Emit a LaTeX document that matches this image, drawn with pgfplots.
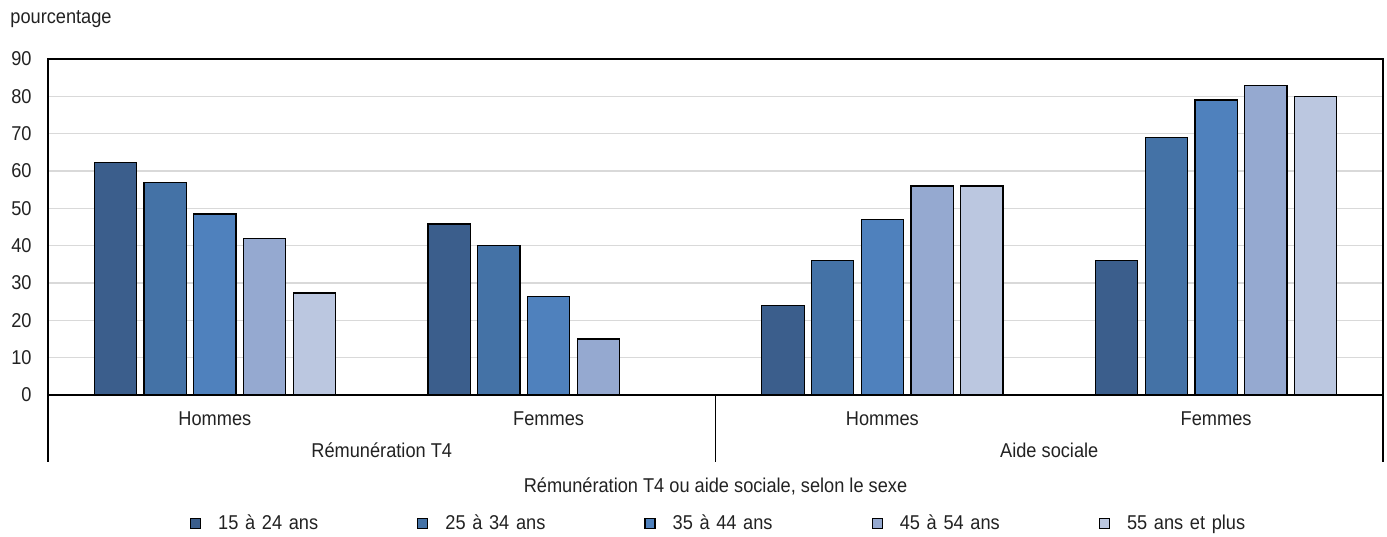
\documentclass[border=0pt]{standalone}
\usepackage{pgfplots}
\pgfplotsset{compat=1.18}
\usepackage{fontspec}
\setmainfont{Liberation Sans}[FakeStretch=0.91]
\definecolor{c1}{RGB}{59,94,140}
\definecolor{c2}{RGB}{68,114,166}
\definecolor{c3}{RGB}{79,129,189}
\definecolor{c4}{RGB}{149,169,208}
\definecolor{c5}{RGB}{187,199,224}
\definecolor{txt}{RGB}{34,34,34}
\begin{document}
\begin{tikzpicture}[font=\fontsize{10}{12}\selectfont, text=txt]
\useasboundingbox (-24pt,-70.5pt) rectangle (669.5pt,197.5pt);
\node[anchor=base west, inner sep=0pt] at (-19pt,185.5pt) {pourcentage};
\begin{axis}[
  at={(0,0)}, anchor=south west, scale only axis,
  width=667.5pt, height=168pt,
  ybar=3.7pt, bar width=21.15pt,
  xmin=-0.5, xmax=3.5, ymin=0, ymax=90,
  xtick={0,1,2,3}, xticklabels={Hommes,Femmes,Hommes,Femmes},
  ytick={0,10,...,90},
  major tick length=0pt,
  ymajorgrids, grid style={draw=black!15, line width=0.6pt},
  axis line style={line width=0.75pt},
  /pgf/number format/assume math mode=true,
  yticklabel style={anchor=east, inner sep=0pt, xshift=-8pt},
  xticklabel style={anchor=base, inner sep=0pt, yshift=-15pt},
  clip=false,
  legend columns=5,
  legend image code/.code={\draw[#1, line width=0.6pt] (0pt,-2.5pt) rectangle (5pt,2.5pt);},
  legend style={draw=none, fill=none, at={(0.1064,-0.383)}, anchor=west,
    inner sep=0pt, outer sep=0pt,
    nodes={inner sep=0pt, text width=99.5pt, align=left, anchor=west},
    /tikz/every odd column/.append style={column sep=8.5pt}},
]
\addplot[fill=c1, draw=black, line width=0.6pt] coordinates {(0,62.2) (1,45.8) (2,24) (3,36)};
\addplot[fill=c2, draw=black, line width=0.6pt] coordinates {(0,57) (1,40) (2,36) (3,69)};
\addplot[fill=c3, draw=black, line width=0.6pt] coordinates {(0,48.5) (1,26.3) (2,47) (3,79)};
\addplot[fill=c4, draw=black, line width=0.6pt] coordinates {(0,42) (1,15) (2,56) (3,83)};
\addplot[fill=c5, draw=black, line width=0.6pt] coordinates {(0,27.3) (2,56) (3,80)};
\legend{15 à 24 ans, 25 à 34 ans, 35 à 44 ans, 45 à 54 ans, 55 ans et plus}
\draw[line width=0.75pt] (axis description cs:0,0) -- ++(0pt,-33.5pt);
\draw[line width=0.75pt] (axis description cs:0.5,0) -- ++(0pt,-33.5pt);
\draw[line width=0.75pt] (axis description cs:1,0) -- ++(0pt,-33.5pt);
\node[anchor=base, inner sep=0pt] at ([yshift=-31pt]axis description cs:0.25,0) {Rémunération T4};
\node[anchor=base, inner sep=0pt] at ([yshift=-31pt]axis description cs:0.75,0) {Aide sociale};
\node[anchor=base, inner sep=0pt] at ([yshift=-48.5pt]axis description cs:0.5,0) {Rémunération T4 ou aide sociale, selon le sexe};
\end{axis}
\end{tikzpicture}
\end{document}
